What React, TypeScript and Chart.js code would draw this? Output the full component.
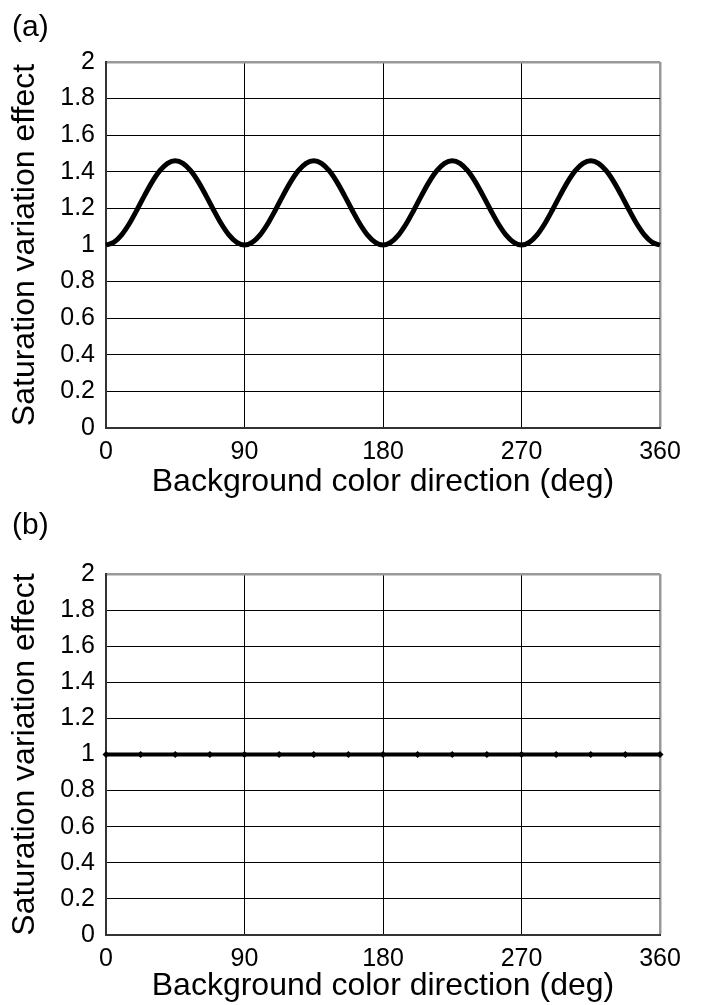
import React, { useEffect, useRef } from "react";
import { Chart, registerables } from "chart.js";

Chart.register(...registerables);

// ---- data ----
const anglesA = [
  0, 5, 10, 15, 20, 25, 30, 35, 40, 45, 50, 55, 60, 65, 70, 75, 80, 85, 90,
  95, 100, 105, 110, 115, 120, 125, 130, 135, 140, 145, 150, 155, 160, 165, 170, 175, 180,
  185, 190, 195, 200, 205, 210, 215, 220, 225, 230, 235, 240, 245, 250, 255, 260, 265, 270,
  275, 280, 285, 290, 295, 300, 305, 310, 315, 320, 325, 330, 335, 340, 345, 350, 355, 360,
];
const effectA = [
  1, 1.014, 1.054, 1.115, 1.19, 1.27, 1.345, 1.406, 1.446, 1.46, 1.446, 1.406, 1.345, 1.27, 1.19, 1.115, 1.054, 1.014, 1,
  1.014, 1.054, 1.115, 1.19, 1.27, 1.345, 1.406, 1.446, 1.46, 1.446, 1.406, 1.345, 1.27, 1.19, 1.115, 1.054, 1.014, 1,
  1.014, 1.054, 1.115, 1.19, 1.27, 1.345, 1.406, 1.446, 1.46, 1.446, 1.406, 1.345, 1.27, 1.19, 1.115, 1.054, 1.014, 1,
  1.014, 1.054, 1.115, 1.19, 1.27, 1.345, 1.406, 1.446, 1.46, 1.446, 1.406, 1.345, 1.27, 1.19, 1.115, 1.054, 1.014, 1,
];
const anglesB = [0, 22.5, 45, 67.5, 90, 112.5, 135, 157.5, 180, 202.5, 225, 247.5, 270, 292.5, 315, 337.5, 360];
const effectB = [1, 1, 1, 1, 1, 1, 1, 1, 1, 1, 1, 1, 1, 1, 1, 1, 1];

const xTickValues = [0, 90, 180, 270, 360];
const xTickLabels = ["0", "90", "180", "270", "360"];
const yTickValues = [0, 0.2, 0.4, 0.6, 0.8, 1, 1.2, 1.4, 1.6, 1.8, 2];
const yTickLabels = ["0", "0.2", "0.4", "0.6", "0.8", "1", "1.2", "1.4", "1.6", "1.8", "2"];

const xTitle = "Background color direction (deg)";
const yTitle = "Saturation variation effect";

const FONT = "'Liberation Sans', Arial, Helvetica, sans-serif";

type PanelProps = {
  label: string;
  xs: number[];
  ys: number[];
  width: number;
  height: number;
  top: number;
  areaTop: number;
  areaBottom: number;
  labelBaseline: number;
  titlePadBottom: number;
  lineWidth: number;
  points: boolean;
};

function labelFor(values: number[], labels: string[], v: number): string {
  for (let i = 0; i < values.length; i++) {
    if (Math.abs(values[i] - v) < 1e-6) return labels[i];
  }
  return "";
}

function Panel(p: PanelProps) {
  const ref = useRef<HTMLCanvasElement | null>(null);
  useEffect(() => {
    if (!ref.current) return;
    const panelLabel = {
      id: "panelLabel",
      afterDraw(chart: any) {
        const ctx = chart.ctx;
        ctx.save();
        ctx.font = `30px ${FONT}`;
        ctx.fillStyle = "#000";
        ctx.textBaseline = "alphabetic";
        ctx.textAlign = "left";
        ctx.fillText(p.label, 12, p.labelBaseline);
        ctx.restore();
      },
    };
    const chart = new Chart(ref.current, {
      type: "line",
      data: {
        datasets: [
          {
            data: p.xs.map((x, i) => ({ x, y: p.ys[i] })),
            borderColor: "#000",
            backgroundColor: "#000",
            borderWidth: p.lineWidth,
            pointRadius: p.points ? 3.5 : 0,
            pointStyle: "rectRot",
            pointBorderWidth: 0,
            tension: p.points ? 0 : 0.4,
            cubicInterpolationMode: "monotone",
            clip: 4,
          },
        ],
      },
      plugins: [panelLabel],
      options: {
        animation: false,
        responsive: false,
        maintainAspectRatio: false,
        devicePixelRatio: 1,
        layout: {
          padding: { top: p.areaTop, right: 706 - 660, left: 0, bottom: 0 },
        },
        plugins: {
          legend: { display: false },
          tooltip: { enabled: false },
          title: { display: false },
        },
        scales: {
          x: {
            type: "linear",
            min: 0,
            max: 360,
            afterFit: (s: any) => {
              s.height = p.height - p.areaBottom;
            },
            afterBuildTicks: (s: any) => {
              s.ticks = xTickValues.map((v) => ({ value: v }));
            },
            ticks: {
              color: "#000",
              font: { family: FONT, size: 25 },
              padding: 9,
              maxRotation: 0,
              callback: (v: any) => labelFor(xTickValues, xTickLabels, Number(v)),
            },
            grid: {
              drawTicks: false,
              color: (c: any) => (c.tick && c.tick.value === 360 ? "#999" : c.tick && c.tick.value === 0 ? "rgba(0,0,0,0)" : "#000"),
              lineWidth: (c: any) => (c.tick && c.tick.value === 360 ? 2.5 : 1),
            },
            border: { display: true, color: "#333", width: 2 },
            title: {
              display: true,
              text: xTitle,
              color: "#000",
              font: { family: FONT, size: 32 },
              padding: { top: 0, bottom: p.titlePadBottom },
            },
          },
          y: {
            type: "linear",
            min: 0,
            max: 2,
            afterFit: (s: any) => {
              s.width = 106;
            },
            afterBuildTicks: (s: any) => {
              s.ticks = yTickValues.map((v) => ({ value: v }));
            },
            ticks: {
              color: "#000",
              font: { family: FONT, size: 25 },
              padding: 11,
              callback: (v: any) => labelFor(yTickValues, yTickLabels, Number(v)),
            },
            grid: {
              drawTicks: false,
              color: (c: any) => (c.tick && Math.abs(c.tick.value - 2) < 1e-6 ? "#999" : c.tick && c.tick.value === 0 ? "rgba(0,0,0,0)" : "#000"),
              lineWidth: (c: any) => (c.tick && Math.abs(c.tick.value - 2) < 1e-6 ? 2.5 : 1),
            },
            border: { display: true, color: "#333", width: 2 },
            title: {
              display: true,
              text: yTitle,
              color: "#000",
              font: { family: FONT, size: 32 },
              padding: { top: 6, bottom: 0 },
            },
          },
        },
      } as any,
    });
    return () => chart.destroy();
  }, []);
  return (
    <div style={{ position: "absolute", left: 0, top: p.top, width: p.width, height: p.height }}>
      <canvas ref={ref} width={p.width} height={p.height} style={{ width: p.width, height: p.height, display: "block" }} />
    </div>
  );
}

export default function App() {
  return (
    <div style={{ position: "absolute", left: 0, top: 0, width: 706, height: 1005, background: "#fff" }}>
      <Panel
        label="(a)"
        xs={anglesA}
        ys={effectA}
        width={706}
        height={502}
        top={0}
        areaTop={62}
        areaBottom={428}
        labelBaseline={36}
        titlePadBottom={1}
        lineWidth={5}
        points={false}
      />
      <Panel
        label="(b)"
        xs={anglesB}
        ys={effectB}
        width={706}
        height={503}
        top={502}
        areaTop={72}
        areaBottom={433}
        labelBaseline={32}
        titlePadBottom={0}
        lineWidth={4}
        points={true}
      />
    </div>
  );
}
